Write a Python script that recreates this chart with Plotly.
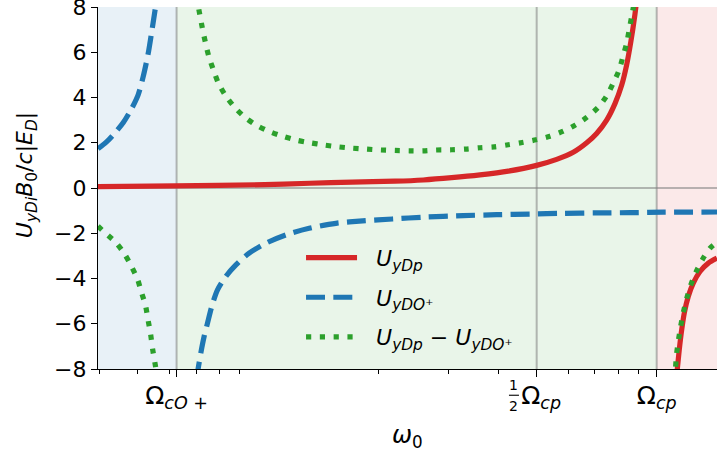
import math
import plotly.graph_objects as go

# ---------------- data (omega_0 in units of Omega_cp) ----------------
omega_cO = 0.0625
omega_half = 0.5
omega_cp = 1.0

x_range = [0.0397, 1.4166]
y_range = [-8, 8]
y_ticks = [-8, -6, -4, -2, 0, 2, 4, 6, 8]
x_tick_vals = [omega_cO, omega_half, omega_cp]
x_tick_labels = [
    "Ω<sub><i>cO</i> +</sub>",
    "<span style='font-size:14px;color:rgba(0,0,0,0)'>1</span>Ω<sub><i>cp</i></sub>",
    "Ω<sub><i>cp</i></sub>",
]
x_minor_ticks = [0.04, 0.05, 0.06, 0.07, 0.08, 0.09, 0.2, 0.3, 0.4, 0.6, 0.7, 0.8, 0.9]

# U_yDp  (two branches around Omega_cp)
up_w1 = [0.0397, 0.0622, 0.1039, 0.1349, 0.1723, 0.2206, 0.2597, 0.3060, 0.3603, 0.4243,
         0.5000, 0.5612, 0.6176, 0.6676, 0.7070, 0.7491, 0.7859, 0.8171, 0.8409, 0.8620,
         0.8823, 0.895]
up_v1 = [0.057, 0.09, 0.15, 0.21, 0.26, 0.30, 0.355, 0.455, 0.58, 0.745,
         1.00, 1.265, 1.58, 2.00, 2.41, 3.00, 3.73, 4.55, 5.45, 6.50,
         7.70, 8.6]
up_w2 = [1.119, 1.1262, 1.1394, 1.1554, 1.1728, 1.2001, 1.2351, 1.2842, 1.3474, 1.4166]
up_v2 = [-8.5, -8.02, -7.14, -6.26, -5.52, -4.79, -4.20, -3.69, -3.32, -3.10]

# U_yDO+  (two branches around Omega_cO+)
uo_w1 = [0.0397, 0.04171, 0.04375, 0.0459, 0.04818, 0.05006, 0.05152, 0.05303, 0.05408,
         0.05512, 0.0559]
uo_v1 = [1.74, 2.04, 2.43, 2.88, 3.50, 4.12, 4.91, 5.93, 6.85, 7.80, 8.5]
uo_w2 = [0.0700, 0.07095, 0.07189, 0.07328, 0.07472, 0.07659, 0.07916, 0.08307, 0.08803,
         0.09504, 0.1047, 0.1175, 0.1344, 0.1568, 0.1830, 0.2176, 0.2588, 0.3271, 0.3968,
         0.4810, 0.5831, 0.7070, 0.8570, 1.0389, 1.4166]
uo_v2 = [-8.5, -7.88, -7.29, -6.56, -5.97, -5.23, -4.50, -3.91, -3.40,
         -2.88, -2.44, -2.07, -1.78, -1.56, -1.455, -1.37, -1.29, -1.22, -1.18,
         -1.15, -1.12, -1.10, -1.09, -1.07, -1.06]

# U_yDp - U_yDO+  (three branches)
ud_w1 = [0.0397, 0.04129, 0.04400, 0.04628, 0.04818, 0.04987, 0.05105, 0.05224, 0.05303,
         0.05378, 0.05440, 0.05512, 0.0561]
ud_v1 = [-1.69, -1.97, -2.41, -2.92, -3.47, -4.03, -4.62, -5.20, -5.85,
         -6.45, -7.10, -7.70, -8.5]
ud_w2 = [0.0700, 0.07148, 0.07261, 0.07387, 0.07530, 0.07737, 0.07964, 0.08307, 0.08736,
         0.09255, 0.09897, 0.1067, 0.1152, 0.1245, 0.1349, 0.1463, 0.1589, 0.1723, 0.1868,
         0.2030, 0.2206, 0.2394, 0.2597, 0.2795, 0.3060, 0.3323, 0.3603, 0.3914, 0.4243,
         0.4601, 0.4981, 0.5400, 0.5831, 0.6262, 0.6697, 0.7136, 0.7491, 0.7782, 0.8043,
         0.8233, 0.8409, 0.8538, 0.8671, 0.8846]
ud_v2 = [8.5, 7.66, 7.02, 6.41, 5.81, 5.20, 4.62, 4.07, 3.57,
         3.14, 2.78, 2.50, 2.29, 2.12, 2.00, 1.90, 1.82, 1.76, 1.72,
         1.68, 1.66, 1.645, 1.645, 1.68, 1.69, 1.72, 1.78, 1.82, 1.91,
         2.01, 2.13, 2.29, 2.51, 2.79, 3.14, 3.57, 4.07, 4.64, 5.20,
         5.82, 6.41, 7.02, 7.66, 8.5]
ud_w3 = [1.109, 1.1149, 1.1214, 1.1328, 1.1478, 1.1657, 1.1881, 1.2159, 1.2518, 1.3014,
         1.3602, 1.4166]
ud_v3 = [-8.5, -7.95, -7.36, -6.78, -6.14, -5.52, -4.91, -4.32, -3.76, -3.17,
         -2.66, -2.40]

names = ["&nbsp;&nbsp;<i>U</i><sub><i>yDp</i></sub>",
         "&nbsp;&nbsp;<i>U</i><sub><i>yDO</i>⁺</sub>",
         "&nbsp;&nbsp;<i>U</i><sub><i>yDp</i></sub> − <i>U</i><sub><i>yDO</i>⁺</sub>"]


def join(*branches):
    xs, ys = [], []
    for w, v in branches:
        if xs:
            xs.append(None)
            ys.append(None)
        xs += list(w)
        ys += list(v)
    return xs, ys


RED, BLUE, GREEN = "#d62728", "#1f77b4", "#2ca02c"
LW = 5.2

fig = go.Figure()
x1, y1 = join((up_w1, up_v1), (up_w2, up_v2))
x2, y2 = join((uo_w1, uo_v1), (uo_w2, uo_v2))
x3, y3 = join((ud_w1, ud_v1), (ud_w2, ud_v2), (ud_w3, ud_v3))
fig.add_trace(go.Scatter(x=x1, y=y1, mode="lines", name=names[0], legendgroup="a",
                         line=dict(color=RED, width=LW, shape="spline", smoothing=0.8)))
fig.add_trace(go.Scatter(x=x2, y=y2, mode="lines", name=names[1], legendgroup="b",
                         line=dict(color=BLUE, width=LW, dash="19px,8.3px",
                                   shape="spline", smoothing=0.8)))
fig.add_trace(go.Scatter(x=x3, y=y3, mode="lines", name=names[2], legendgroup="c",
                         line=dict(color=GREEN, width=LW, dash="5.2px,8.6px",
                                   shape="spline", smoothing=0.8)))

# shaded frequency bands
bands = [(x_range[0] * 0.9, omega_cO, "rgba(31,119,180,0.1)"),
         (omega_cO, omega_cp, "rgba(44,160,44,0.1)"),
         (omega_cp, x_range[1] * 1.2, "rgba(214,39,40,0.1)")]
for a, b, c in bands:
    fig.add_shape(type="rect", xref="x", yref="paper", x0=a, x1=b, y0=0, y1=1,
                  fillcolor=c, line=dict(width=0), layer="below")
for xv in x_tick_vals:
    fig.add_shape(type="line", xref="x", yref="paper", x0=xv, x1=xv, y0=0, y1=1,
                  line=dict(color="rgba(128,128,128,0.55)", width=2), layer="below")
fig.add_shape(type="line", xref="paper", yref="y", x0=0, x1=1, y0=0, y1=0,
              line=dict(color="rgba(128,128,128,0.55)", width=2), layer="below")

# fraction 1/2 in front of the middle tick label
lx = math.log10(omega_half)
fig.add_annotation(x=lx, xref="x", y=0, yref="paper", text="1", showarrow=False,
                   font=dict(size=14), xshift=-23, yshift=-16,
                   xanchor="center", yanchor="middle")
fig.add_annotation(x=lx, xref="x", y=0, yref="paper", text="2", showarrow=False,
                   font=dict(size=14), xshift=-23, yshift=-37,
                   xanchor="center", yanchor="middle")
fig.add_shape(type="line", xref="x", yref="paper", x0=10 ** (lx - 0.0695),
              x1=10 ** (lx - 0.0444), y0=-0.0725, y1=-0.0725,
              line=dict(color="black", width=1.1))

# axis titles as annotations
fig.add_annotation(xref="paper", yref="paper", x=-0.115, y=0.535, textangle=-90,
                   xanchor="center", yanchor="middle",
                   text="<i>U</i><sub><i>yDi</i></sub><i>B</i><sub>0</sub>/<i>c</i>|<i>E</i><sub><i>D</i></sub>|",
                   showarrow=False, font=dict(size=22))
fig.add_annotation(xref="paper", yref="paper", x=0.50, y=-0.187,
                   xanchor="center", yanchor="middle",
                   text="<i>ω</i><sub>0</sub>", showarrow=False, font=dict(size=24))

fig.update_layout(
    width=717, height=457,
    margin=dict(l=98, r=0, t=7, b=88, autoexpand=False),
    paper_bgcolor="white", plot_bgcolor="white",
    font=dict(family="DejaVu Sans", size=22, color="black"),
    showlegend=True,
    legend=dict(x=0.328, y=0.365, xanchor="left", yanchor="top",
                bgcolor="rgba(0,0,0,0)", borderwidth=0, font=dict(size=22),
                itemwidth=51, tracegroupgap=8, traceorder="grouped"),
    xaxis=dict(type="log", range=[math.log10(x_range[0]), math.log10(x_range[1])],
               tickvals=x_tick_vals, ticktext=x_tick_labels, tickfont=dict(size=25),
               ticks="outside", ticklen=7, tickwidth=1.1, tickcolor="black",
               ticklabelstandoff=-3, ticklabeloverflow="allow", automargin=False,
               showline=True, linecolor="black", linewidth=1.1,
               showgrid=False, zeroline=False,
               minor=dict(tickvals=x_minor_ticks, ticks="outside", ticklen=4,
                          tickwidth=0.9, tickcolor="black", showgrid=False)),
    yaxis=dict(range=y_range, tickvals=y_ticks, ticks="outside", ticklen=6,
               tickwidth=1.1, tickcolor="black", showline=True, linecolor="black",
               linewidth=1.1, showgrid=False, zeroline=False,
               ticklabeloverflow="allow", automargin=False),
)

fig.write_html("out.html", config={"displayModeBar": False},
               post_script="document.body.style.margin='0px';")
